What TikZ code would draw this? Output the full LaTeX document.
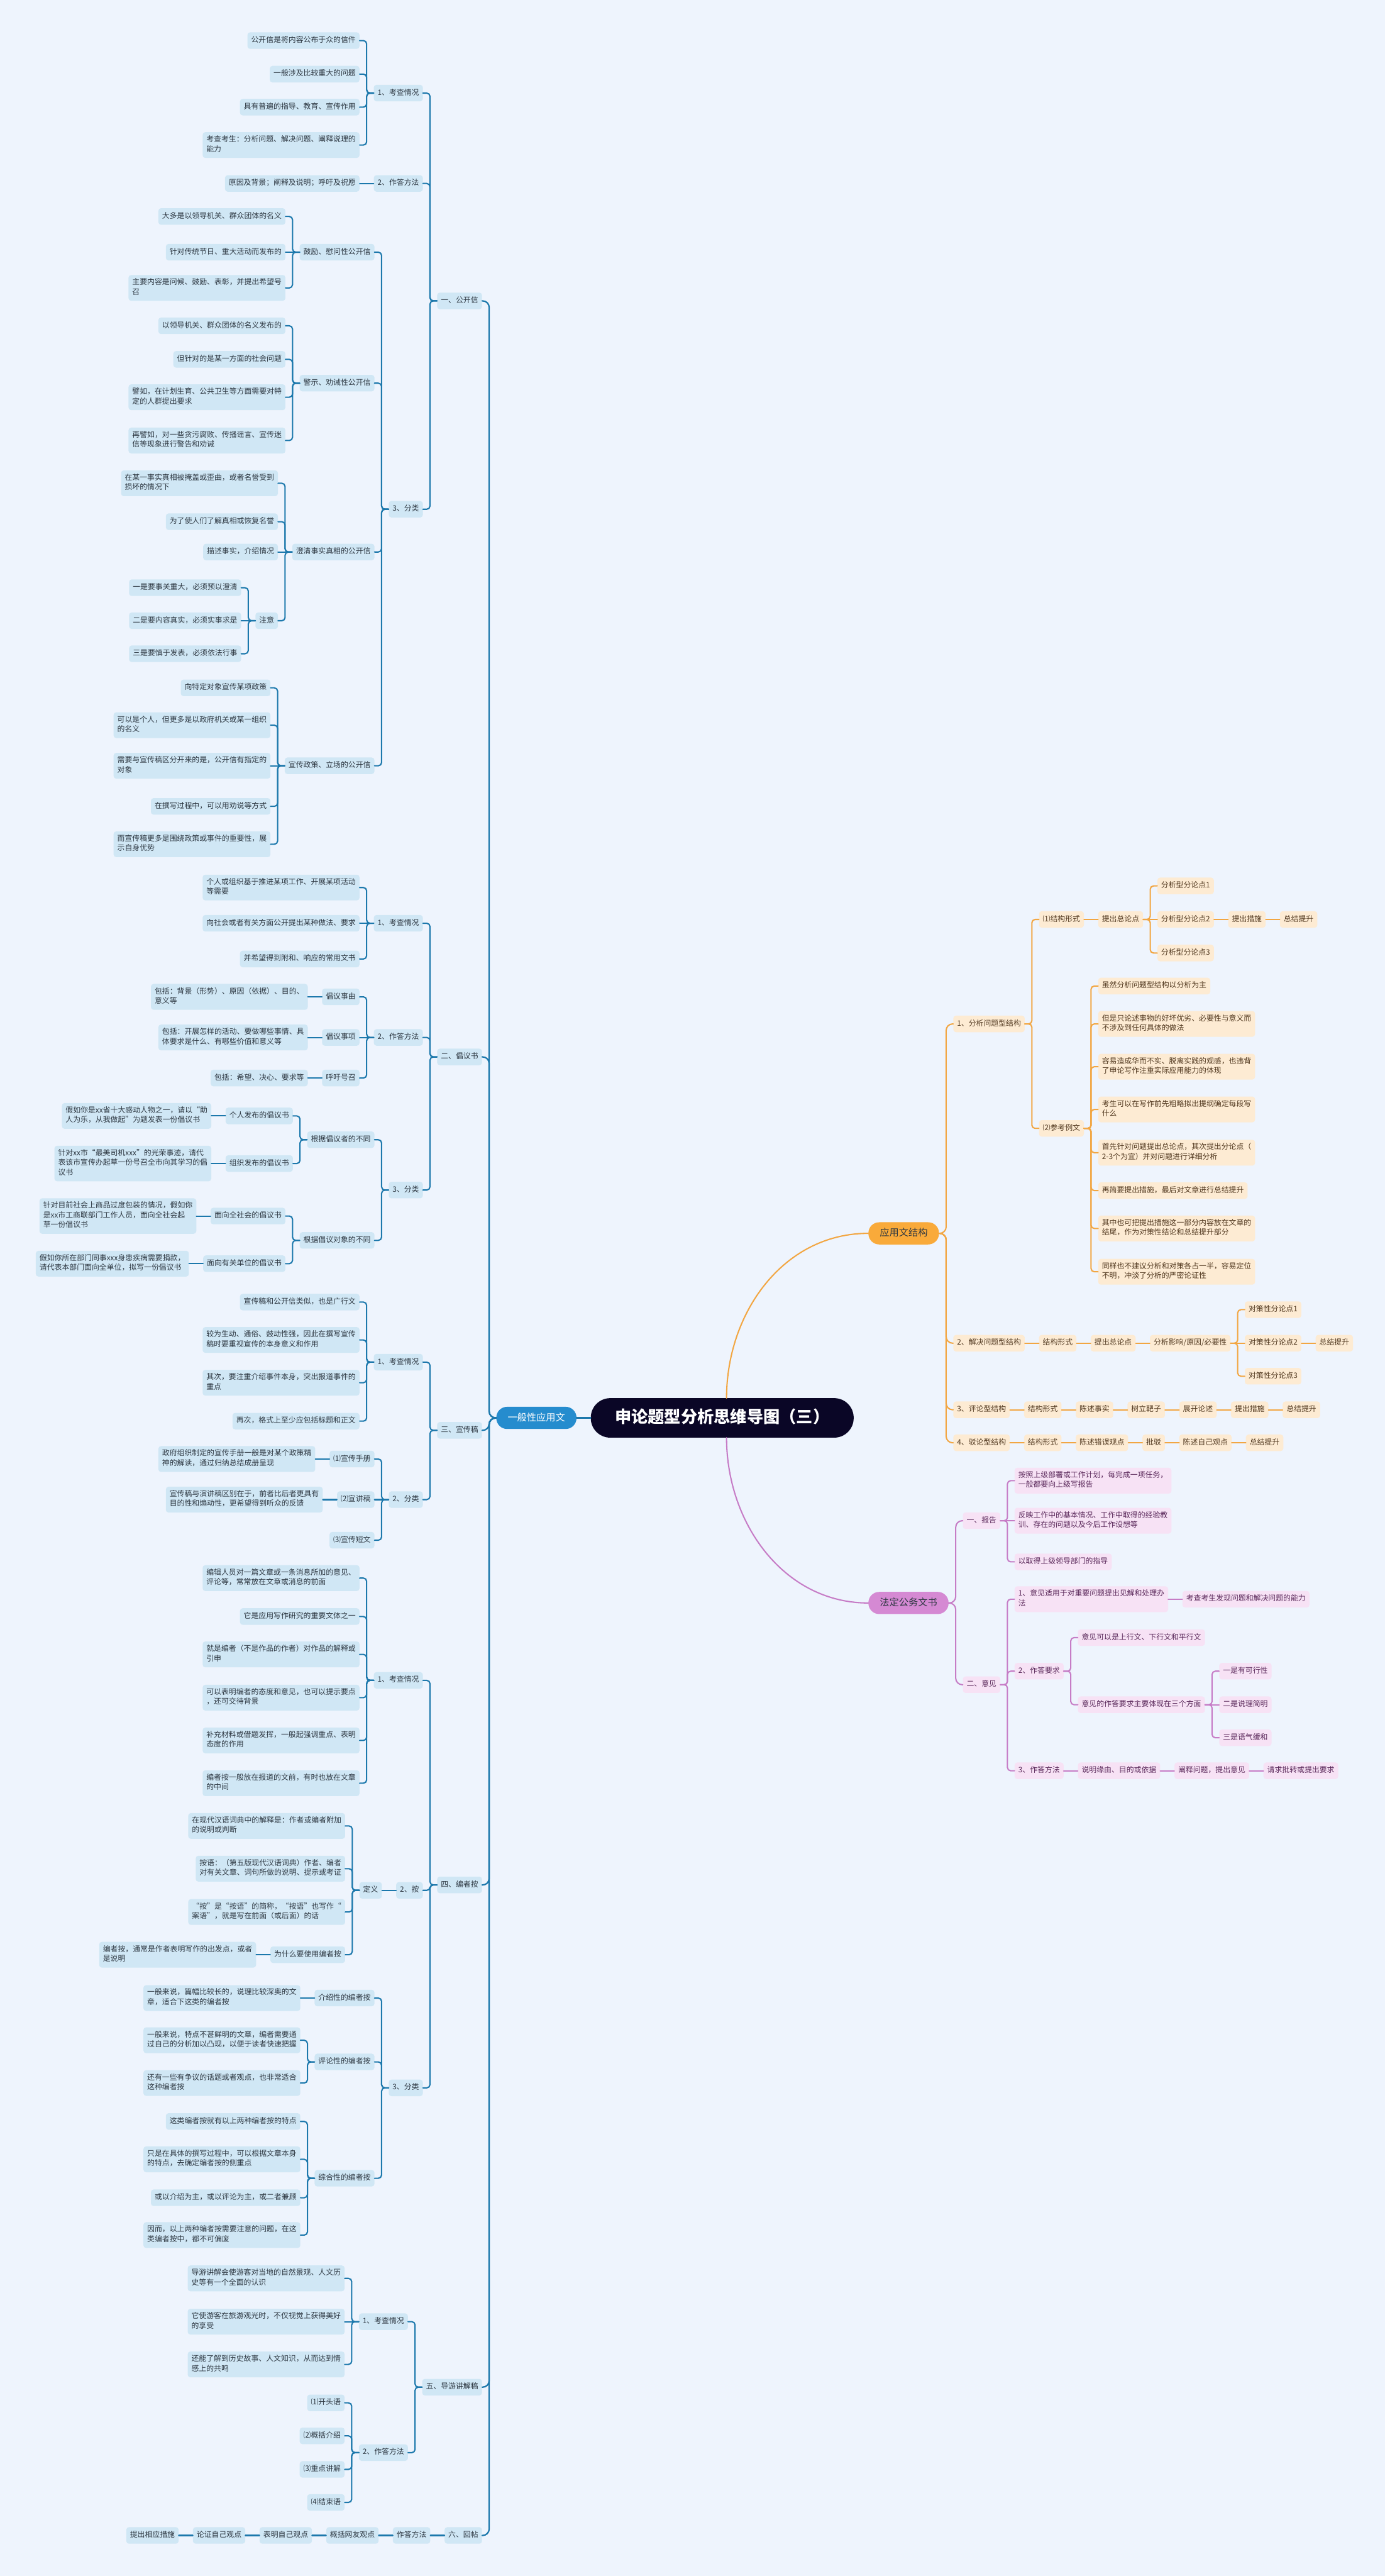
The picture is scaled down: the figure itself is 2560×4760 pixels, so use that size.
\documentclass[tikz,border=0pt]{standalone}
\usepackage{fontspec}
\setmainfont{Noto Sans CJK SC}
\definecolor{sfondo}{RGB}{238,244,253}
\definecolor{blu}{RGB}{28,120,172}
\definecolor{blufill}{RGB}{208,231,245}
\definecolor{blutesto}{RGB}{45,55,65}
\definecolor{radice}{RGB}{37,140,206}
\definecolor{notte}{RGB}{10,6,38}
\definecolor{aran}{RGB}{242,166,66}
\definecolor{aranfill}{RGB}{253,235,211}
\definecolor{arantesta}{RGB}{249,170,58}
\definecolor{arantesto}{RGB}{80,55,30}
\definecolor{viola}{RGB}{198,124,198}
\definecolor{violafill}{RGB}{247,226,245}
\definecolor{violatesta}{RGB}{213,137,211}
\definecolor{violatesto}{RGB}{90,40,90}
\newcommand\piccolo{\fontsize{13.8}{18}\selectfont}
\newcommand\medio{\fontsize{17.7}{21}\selectfont}
\newcommand\grande{\fontsize{30.5}{34}\selectfont\bfseries}

\begin{document}
\begin{tikzpicture}[x=1pt,y=-1pt,line join=round,line cap=round,
  box/.style={rounded corners=5pt,inner xsep=7pt,inner ysep=6.3pt,align=left,font=\piccolo,
    execute at begin node=\strut,execute at end node=\strut},
  sx/.style={box,fill=blufill,text=blutesto,anchor=east},
  dx/.style={box,fill=aranfill,text=arantesto,anchor=west},
  vx/.style={box,fill=violafill,text=violatesto,anchor=west},
  capo/.style={font=\medio,inner xsep=21pt,inner ysep=11.75pt,text height=14pt,text depth=3.5pt,rounded corners=20pt},
  filo/.style={draw=blu,line width=2.4pt,rounded corners=6pt},
  filoa/.style={draw=aran,line width=2.4pt,rounded corners=6pt},
  filov/.style={draw=viola,line width=2.4pt,rounded corners=6pt}]
  \useasboundingbox (0,0) rectangle (2560,4760);
  \fill[sfondo] (0,0) rectangle (2560,4760);

  % --- titolo e rami principali
  \node[capo,fill=notte,text=white,font=\grande,inner xsep=44.7pt,inner ysep=21.5pt,
        text height=24pt,text depth=6pt,rounded corners=36pt] (tit) at (1335,2620) {申论题型分析思维导图（三）};
  \node[capo,fill=radice,text=white] (gen) at (991.5,2620) {一般性应用文};
  \node[capo,fill=arantesta,text=blutesto,anchor=west] (yys) at (1605,2279) {应用文结构};
  \node[capo,fill=violatesta,text=blutesto,anchor=west] (fgw) at (1605,2962) {法定公务文书};
  \draw[filo,line width=2.6pt] (tit.west) -- (gen.east);
  \draw[filoa,rounded corners=0pt] ([xshift=8pt]tit.north) to[out=90,in=180] (yys.west);
  \draw[filov,rounded corners=0pt] ([xshift=8pt]tit.south) to[out=-90,in=180] (fgw.west);

  % --- sezioni dell'albero sinistro
  \node[sx] (gk) at ([xshift=-26pt]gen.west |- 0,556) {一、公开信};
  \node[sx] (cy) at ([xshift=-26pt]gen.west |- 0,1953) {二、倡议书};
  \node[sx] (xc) at ([xshift=-26pt]gen.west |- 0,2643) {三、宣传稿};
  \node[sx] (bz) at ([xshift=-26pt]gen.west |- 0,3483) {四、编者按};
  \node[sx] (dy) at ([xshift=-26pt]gen.west |- 0,4411) {五、导游讲解稿};
  \node[sx] (ht) at ([xshift=-26pt]gen.west |- 0,4685) {六、回帖};
  \foreach \k in {gk,cy,xc,bz,dy,ht}
    \draw[filo,line width=2.6pt,rounded corners=12pt] (gen.west) -- ++(-13,0) |- (\k.east);

  % --- 一、公开信
  \node[sx] (gk1) at ([xshift=-26pt]gk.west |- 0,172) {1、考查情况};
  \node[sx] (gk2) at ([xshift=-26pt]gk.west |- 0,339) {2、作答方法};
  \node[sx] (gk3) at ([xshift=-26pt]gk.west |- 0,941) {3、分类};
  \node[sx] (gk11) at ([xshift=-26pt]gk1.west |- 0,75) {公开信是将内容公布于众的信件};
  \node[sx] (gk12) at ([xshift=-26pt]gk1.west |- 0,137) {一般涉及比较重大的问题};
  \node[sx] (gk13) at ([xshift=-26pt]gk1.west |- 0,198) {具有普遍的指导、教育、宣传作用};
  \node[sx] (gk14) at ([xshift=-26pt]gk1.west |- 0,268) {考查考生：分析问题、解决问题、阐释说理的\\能力};
  \node[sx] (gk21) at ([xshift=-26pt]gk2.west |- 0,339) {原因及背景；阐释及说明；呼吁及祝愿};
  \node[sx] (gk31) at ([xshift=-26pt]gk3.west |- 0,466) {鼓励、慰问性公开信};
  \node[sx] (gk32) at ([xshift=-26pt]gk3.west |- 0,708) {警示、劝诫性公开信};
  \node[sx] (gk33) at ([xshift=-26pt]gk3.west |- 0,1020) {澄清事实真相的公开信};
  \node[sx] (gk34) at ([xshift=-26pt]gk3.west |- 0,1415) {宣传政策、立场的公开信};
  \node[sx] (gk311) at ([xshift=-26pt]gk31.west |- 0,400) {大多是以领导机关、群众团体的名义};
  \node[sx] (gk312) at ([xshift=-26pt]gk31.west |- 0,466) {针对传统节日、重大活动而发布的};
  \node[sx] (gk313) at ([xshift=-26pt]gk31.west |- 0,532) {主要内容是问候、鼓励、表彰，并提出希望号\\召};
  \node[sx] (gk321) at ([xshift=-26pt]gk32.west |- 0,602) {以领导机关、群众团体的名义发布的};
  \node[sx] (gk322) at ([xshift=-26pt]gk32.west |- 0,664) {但针对的是某一方面的社会问题};
  \node[sx] (gk323) at ([xshift=-26pt]gk32.west |- 0,734) {譬如，在计划生育、公共卫生等方面需要对特\\定的人群提出要求};
  \node[sx] (gk324) at ([xshift=-26pt]gk32.west |- 0,814) {再譬如，对一些贪污腐败、传播谣言、宣传迷\\信等现象进行警告和劝诫};
  \node[sx] (gk331) at ([xshift=-26pt]gk33.west |- 0,893) {在某一事实真相被掩盖或歪曲，或者名誉受到\\损坏的情况下};
  \node[sx] (gk332) at ([xshift=-26pt]gk33.west |- 0,964) {为了使人们了解真相或恢复名誉};
  \node[sx] (gk333) at ([xshift=-26pt]gk33.west |- 0,1020) {描述事实，介绍情况};
  \node[sx] (gk334) at ([xshift=-26pt]gk33.west |- 0,1147) {注意};
  \node[sx] (gk3341) at ([xshift=-26pt]gk334.west |- 0,1086) {一是要事关重大，必须预以澄清};
  \node[sx] (gk3342) at ([xshift=-26pt]gk334.west |- 0,1147) {二是要内容真实，必须实事求是};
  \node[sx] (gk3343) at ([xshift=-26pt]gk334.west |- 0,1208) {三是要慎于发表，必须依法行事};
  \node[sx] (gk341) at ([xshift=-26pt]gk34.west |- 0,1271) {向特定对象宣传某项政策};
  \node[sx] (gk342) at ([xshift=-26pt]gk34.west |- 0,1340) {可以是个人，但更多是以政府机关或某一组织\\的名义};
  \node[sx] (gk343) at ([xshift=-26pt]gk34.west |- 0,1415) {需要与宣传稿区分开来的是，公开信有指定的\\对象};
  \node[sx] (gk344) at ([xshift=-26pt]gk34.west |- 0,1490) {在撰写过程中，可以用劝说等方式};
  \node[sx] (gk345) at ([xshift=-26pt]gk34.west |- 0,1560) {而宣传稿更多是围绕政策或事件的重要性，展\\示自身优势};

  % --- 二、倡议书
  \node[sx] (cy1) at ([xshift=-26pt]cy.west |- 0,1706) {1、考查情况};
  \node[sx] (cy2) at ([xshift=-26pt]cy.west |- 0,1917) {2、作答方法};
  \node[sx] (cy3) at ([xshift=-26pt]cy.west |- 0,2199) {3、分类};
  \node[sx] (cy11) at ([xshift=-26pt]cy1.west |- 0,1640) {个人或组织基于推进某项工作、开展某项活动\\等需要};
  \node[sx] (cy12) at ([xshift=-26pt]cy1.west |- 0,1706) {向社会或者有关方面公开提出某种做法、要求};
  \node[sx] (cy13) at ([xshift=-26pt]cy1.west |- 0,1772) {并希望得到附和、响应的常用文书};
  \node[sx] (cy21) at ([xshift=-26pt]cy2.west |- 0,1842) {倡议事由};
  \node[sx] (cy22) at ([xshift=-26pt]cy2.west |- 0,1917) {倡议事项};
  \node[sx] (cy23) at ([xshift=-26pt]cy2.west |- 0,1992) {呼吁号召};
  \node[sx] (cy211) at ([xshift=-26pt]cy21.west) {包括：背景（形势）、原因（依据）、目的、\\意义等};
  \node[sx] (cy221) at ([xshift=-26pt]cy22.west) {包括：开展怎样的活动、要做哪些事情、具\\体要求是什么、有哪些价值和意义等};
  \node[sx] (cy231) at ([xshift=-26pt]cy23.west) {包括：希望、决心、要求等};
  \node[sx] (cy31) at ([xshift=-26pt]cy3.west |- 0,2106) {根据倡议者的不同};
  \node[sx] (cy32) at ([xshift=-26pt]cy3.west |- 0,2292) {根据倡议对象的不同};
  \node[sx] (cy311) at ([xshift=-26pt]cy31.west |- 0,2062) {个人发布的倡议书};
  \node[sx] (cy312) at ([xshift=-26pt]cy31.west |- 0,2150) {组织发布的倡议书};
  \node[sx] (cy321) at ([xshift=-26pt]cy32.west |- 0,2247) {面向全社会的倡议书};
  \node[sx] (cy322) at ([xshift=-26pt]cy32.west |- 0,2335) {面向有关单位的倡议书};
  \node[sx] (cy3111) at ([xshift=-26pt]cy311.west) {假如你是xx省十大感动人物之一，请以“助\\人为乐，从我做起”为题发表一份倡议书};
  \node[sx] (cy3121) at ([xshift=-26pt]cy312.west) {针对xx市“最美司机xxx”的光荣事迹，请代\\表该市宣传办起草一份号召全市向其学习的倡\\议书};
  \node[sx] (cy3211) at ([xshift=-26pt]cy321.west) {针对目前社会上商品过度包装的情况，假如你\\是xx市工商联部门工作人员，面向全社会起\\草一份倡议书};
  \node[sx] (cy3221) at ([xshift=-26pt]cy322.west) {假如你所在部门同事xxx身患疾病需要捐款，\\请代表本部门面向全单位，拟写一份倡议书};

  % --- 三、宣传稿
  \node[sx] (xc1) at ([xshift=-26pt]xc.west |- 0,2517) {1、考查情况};
  \node[sx] (xc2) at ([xshift=-26pt]xc.west |- 0,2771) {2、分类};
  \node[sx] (xc11) at ([xshift=-26pt]xc1.west |- 0,2406) {宣传稿和公开信类似，也是广行文};
  \node[sx] (xc12) at ([xshift=-26pt]xc1.west |- 0,2476) {较为生动、通俗、鼓动性强，因此在撰写宣传\\稿时要重视宣传的本身意义和作用};
  \node[sx] (xc13) at ([xshift=-26pt]xc1.west |- 0,2555) {其次，要注重介绍事件本身，突出报道事件的\\重点};
  \node[sx] (xc14) at ([xshift=-26pt]xc1.west |- 0,2626) {再次，格式上至少应包括标题和正文};
  \node[sx] (xc21) at ([xshift=-26pt]xc2.west |- 0,2696) {⑴宣传手册};
  \node[sx] (xc22) at ([xshift=-26pt]xc2.west |- 0,2771) {⑵宣讲稿};
  \node[sx] (xc23) at ([xshift=-26pt]xc2.west |- 0,2846) {⑶宣传短文};
  \node[sx] (xc211) at ([xshift=-26pt]xc21.west) {政府组织制定的宣传手册一般是对某个政策精\\神的解读，通过归纳总结成册呈现};
  \node[sx] (xc221) at ([xshift=-26pt]xc22.west) {宣传稿与演讲稿区别在于，前者比后者更具有\\目的性和煽动性，更希望得到听众的反馈};

  % --- 四、编者按
  \node[sx] (bz1) at ([xshift=-26pt]bz.west |- 0,3105) {1、考查情况};
  \node[sx] (bz2) at ([xshift=-26pt]bz.west |- 0,3493) {2、按};
  \node[sx] (bz3) at ([xshift=-26pt]bz.west |- 0,3858) {3、分类};
  \node[sx] (bz11) at ([xshift=-26pt]bz1.west |- 0,2916) {编辑人员对一篇文章或一条消息所加的意见、\\评论等，常常放在文章或消息的前面};
  \node[sx] (bz12) at ([xshift=-26pt]bz1.west |- 0,2987) {它是应用写作研究的重要文体之一};
  \node[sx] (bz13) at ([xshift=-26pt]bz1.west |- 0,3057) {就是编者（不是作品的作者）对作品的解释或\\引申};
  \node[sx] (bz14) at ([xshift=-26pt]bz1.west |- 0,3137) {可以表明编者的态度和意见，也可以提示要点\\，还可交待背景};
  \node[sx] (bz15) at ([xshift=-26pt]bz1.west |- 0,3216) {补充材料或借题发挥，一般起强调重点、表明\\态度的作用};
  \node[sx] (bz16) at ([xshift=-26pt]bz1.west |- 0,3295) {编者按一般放在报道的文前，有时也放在文章\\的中间};
  \node[sx] (bz21) at ([xshift=-26pt]bz2.west) {定义};
  \node[sx] (bz211) at ([xshift=-26pt]bz21.west |- 0,3374) {在现代汉语词典中的解释是：作者或编者附加\\的说明或判断};
  \node[sx] (bz212) at ([xshift=-26pt]bz21.west |- 0,3453) {按语：（第五版现代汉语词典）作者、编者\\对有关文章、词句所做的说明、提示或考证};
  \node[sx] (bz213) at ([xshift=-26pt]bz21.west |- 0,3533) {“按”是“按语”的简称，“按语”也写作“\\案语”，就是写在前面（或后面）的话};
  \node[sx] (bz214) at ([xshift=-26pt]bz21.west |- 0,3612) {为什么要使用编者按};
  \node[sx] (bz2141) at ([xshift=-26pt]bz214.west) {编者按，通常是作者表明写作的出发点，或者\\是说明};
  \node[sx] (bz31) at ([xshift=-26pt]bz3.west |- 0,3692) {介绍性的编者按};
  \node[sx] (bz32) at ([xshift=-26pt]bz3.west |- 0,3810) {评论性的编者按};
  \node[sx] (bz33) at ([xshift=-26pt]bz3.west |- 0,4025) {综合性的编者按};
  \node[sx] (bz311) at ([xshift=-26pt]bz31.west) {一般来说，篇幅比较长的，说理比较深奥的文\\章，适合下这类的编者按};
  \node[sx] (bz321) at ([xshift=-26pt]bz32.west |- 0,3770) {一般来说，特点不甚鲜明的文章，编者需要通\\过自己的分析加以凸现，以便于读者快速把握};
  \node[sx] (bz322) at ([xshift=-26pt]bz32.west |- 0,3849) {还有一些有争议的话题或者观点，也非常适合\\这种编者按};
  \node[sx] (bz331) at ([xshift=-26pt]bz33.west |- 0,3920) {这类编者按就有以上两种编者按的特点};
  \node[sx] (bz332) at ([xshift=-26pt]bz33.west |- 0,3990) {只是在具体的撰写过程中，可以根据文章本身\\的特点，去确定编者按的侧重点};
  \node[sx] (bz333) at ([xshift=-26pt]bz33.west |- 0,4061) {或以介绍为主，或以评论为主，或二者兼顾};
  \node[sx] (bz334) at ([xshift=-26pt]bz33.west |- 0,4130) {因而，以上两种编者按需要注意的问题，在这\\类编者按中，都不可偏废};

  % --- 五、导游讲解稿 e 六、回帖
  \node[sx] (dy1) at ([xshift=-26pt]dy.west |- 0,4290) {1、考查情况};
  \node[sx] (dy2) at ([xshift=-26pt]dy.west |- 0,4532) {2、作答方法};
  \node[sx] (dy11) at ([xshift=-26pt]dy1.west |- 0,4210) {导游讲解会使游客对当地的自然景观、人文历\\史等有一个全面的认识};
  \node[sx] (dy12) at ([xshift=-26pt]dy1.west |- 0,4290) {它使游客在旅游观光时，不仅视觉上获得美好\\的享受};
  \node[sx] (dy13) at ([xshift=-26pt]dy1.west |- 0,4369) {还能了解到历史故事、人文知识，从而达到情\\感上的共鸣};
  \node[sx] (dy21) at ([xshift=-26pt]dy2.west |- 0,4440) {⑴开头语};
  \node[sx] (dy22) at ([xshift=-26pt]dy2.west |- 0,4501) {⑵概括介绍};
  \node[sx] (dy23) at ([xshift=-26pt]dy2.west |- 0,4563) {⑶重点讲解};
  \node[sx] (dy24) at ([xshift=-26pt]dy2.west |- 0,4624) {⑷结束语};
  \node[sx] (ht1) at ([xshift=-26pt]ht.west) {作答方法};
  \node[sx] (ht2) at ([xshift=-26pt]ht1.west) {概括网友观点};
  \node[sx] (ht3) at ([xshift=-26pt]ht2.west) {表明自己观点};
  \node[sx] (ht4) at ([xshift=-26pt]ht3.west) {论证自己观点};
  \node[sx] (ht5) at ([xshift=-26pt]ht4.west) {提出相应措施};

  % --- collegamenti a gomito e diritti, albero sinistro
  \foreach \p/\c in {gk/gk1,gk/gk2,gk/gk3,gk1/gk11,gk1/gk12,gk1/gk13,gk1/gk14,
      gk3/gk31,gk3/gk32,gk3/gk33,gk3/gk34,gk31/gk311,gk31/gk313,
      gk32/gk321,gk32/gk322,gk32/gk323,gk32/gk324,gk33/gk331,gk33/gk332,gk33/gk334,
      gk334/gk3341,gk334/gk3343,gk34/gk341,gk34/gk342,gk34/gk344,gk34/gk345,
      cy/cy1,cy/cy2,cy/cy3,cy1/cy11,cy1/cy13,cy2/cy21,cy2/cy23,cy3/cy31,cy3/cy32,
      cy31/cy311,cy31/cy312,cy32/cy321,cy32/cy322,
      xc/xc1,xc/xc2,xc1/xc11,xc1/xc12,xc1/xc13,xc1/xc14,xc2/xc21,xc2/xc23,
      bz/bz1,bz/bz2,bz/bz3,bz1/bz11,bz1/bz12,bz1/bz13,bz1/bz14,bz1/bz15,bz1/bz16,
      bz21/bz211,bz21/bz212,bz21/bz213,bz21/bz214,bz3/bz31,bz3/bz32,bz3/bz33,
      bz32/bz321,bz32/bz322,bz33/bz331,bz33/bz332,bz33/bz333,bz33/bz334,
      dy/dy1,dy/dy2,dy1/dy11,dy1/dy13,dy2/dy21,dy2/dy22,dy2/dy23,dy2/dy24}
    \draw[filo] (\p.west) -- ++(-13,0) |- (\c.east);
  \foreach \p/\c in {gk2/gk21,gk31/gk312,gk33/gk333,gk334/gk3342,gk34/gk343,cy1/cy12,cy2/cy22,
      cy21/cy211,cy22/cy221,cy23/cy231,cy311/cy3111,cy312/cy3121,cy321/cy3211,cy322/cy3221,
      xc2/xc22,xc21/xc211,xc22/xc221,bz2/bz21,bz214/bz2141,bz31/bz311,dy1/dy12,
      ht/ht1,ht1/ht2,ht2/ht3,ht3/ht4,ht4/ht5}
    \draw[filo] (\p.west) -- (\c.east);

  % --- 应用文结构
  \node[dx] (jg1) at ([xshift=26pt]yys.east |- 0,1892) {1、分析问题型结构};
  \node[dx] (jg2) at ([xshift=26pt]yys.east |- 0,2482) {2、解决问题型结构};
  \node[dx] (jg3) at ([xshift=26pt]yys.east |- 0,2605) {3、评论型结构};
  \node[dx] (jg4) at ([xshift=26pt]yys.east |- 0,2666) {4、驳论型结构};
  \node[dx] (jg11) at ([xshift=26pt]jg1.east |- 0,1699) {⑴结构形式};
  \node[dx] (jg12) at ([xshift=26pt]jg1.east |- 0,2085) {⑵参考例文};
  \node[dx] (jg111) at ([xshift=26pt]jg11.east) {提出总论点};
  \node[dx] (jg1111) at ([xshift=26pt]jg111.east |- 0,1637) {分析型分论点1};
  \node[dx] (jg1112) at ([xshift=26pt]jg111.east |- 0,1699) {分析型分论点2};
  \node[dx] (jg1113) at ([xshift=26pt]jg111.east |- 0,1761) {分析型分论点3};
  \node[dx] (jg1114) at ([xshift=26pt]jg1112.east) {提出措施};
  \node[dx] (jg1115) at ([xshift=26pt]jg1114.east) {总结提升};
  \node[dx] (jg121) at ([xshift=26pt]jg12.east |- 0,1822) {虽然分析问题型结构以分析为主};
  \node[dx] (jg122) at ([xshift=26pt]jg12.east |- 0,1892) {但是只论述事物的好坏优劣、必要性与意义而\\不涉及到任何具体的做法};
  \node[dx] (jg123) at ([xshift=26pt]jg12.east |- 0,1971) {容易造成华而不实、脱离实践的观感，也违背\\了申论写作注重实际应用能力的体现};
  \node[dx] (jg124) at ([xshift=26pt]jg12.east |- 0,2050) {考生可以在写作前先粗略拟出提纲确定每段写\\什么};
  \node[dx] (jg125) at ([xshift=26pt]jg12.east |- 0,2130) {首先针对问题提出总论点，其次提出分论点（\\2-3个为宜）并对问题进行详细分析};
  \node[dx] (jg126) at ([xshift=26pt]jg12.east |- 0,2200) {再简要提出措施，最后对文章进行总结提升};
  \node[dx] (jg127) at ([xshift=26pt]jg12.east |- 0,2270) {其中也可把提出措施这一部分内容放在文章的\\结尾，作为对策性结论和总结提升部分};
  \node[dx] (jg128) at ([xshift=26pt]jg12.east |- 0,2350) {同样也不建议分析和对策各占一半，容易定位\\不明，冲淡了分析的严密论证性};
  \node[dx] (jg21) at ([xshift=26pt]jg2.east) {结构形式};
  \node[dx] (jg22) at ([xshift=26pt]jg21.east) {提出总论点};
  \node[dx] (jg23) at ([xshift=26pt]jg22.east) {分析影响/原因/必要性};
  \node[dx] (jg231) at ([xshift=26pt]jg23.east |- 0,2420) {对策性分论点1};
  \node[dx] (jg232) at ([xshift=26pt]jg23.east |- 0,2482) {对策性分论点2};
  \node[dx] (jg234) at ([xshift=26pt]jg23.east |- 0,2543) {对策性分论点3};
  \node[dx] (jg233) at ([xshift=26pt]jg232.east) {总结提升};
  \node[dx] (jg31) at ([xshift=26pt]jg3.east) {结构形式};
  \node[dx] (jg32) at ([xshift=26pt]jg31.east) {陈述事实};
  \node[dx] (jg33) at ([xshift=26pt]jg32.east) {树立靶子};
  \node[dx] (jg34) at ([xshift=26pt]jg33.east) {展开论述};
  \node[dx] (jg35) at ([xshift=26pt]jg34.east) {提出措施};
  \node[dx] (jg36) at ([xshift=26pt]jg35.east) {总结提升};
  \node[dx] (jg41) at ([xshift=26pt]jg4.east) {结构形式};
  \node[dx] (jg42) at ([xshift=26pt]jg41.east) {陈述错误观点};
  \node[dx] (jg43) at ([xshift=26pt]jg42.east) {批驳};
  \node[dx] (jg44) at ([xshift=26pt]jg43.east) {陈述自己观点};
  \node[dx] (jg45) at ([xshift=26pt]jg44.east) {总结提升};
  \foreach \c in {jg1,jg2,jg3,jg4}
    \draw[filoa,rounded corners=12pt] (yys.east) -- ++(13,0) |- (\c.west);
  \foreach \p/\c in {jg1/jg11,jg1/jg12,jg111/jg1111,jg111/jg1113,jg12/jg121,jg12/jg122,jg12/jg123,
      jg12/jg124,jg12/jg125,jg12/jg126,jg12/jg127,jg12/jg128,jg23/jg231,jg23/jg234}
    \draw[filoa] (\p.east) -- ++(13,0) |- (\c.west);
  \foreach \p/\c in {jg11/jg111,jg111/jg1112,jg1112/jg1114,jg1114/jg1115,jg2/jg21,jg21/jg22,
      jg22/jg23,jg23/jg232,jg232/jg233,jg3/jg31,jg31/jg32,jg32/jg33,jg33/jg34,jg34/jg35,
      jg35/jg36,jg4/jg41,jg41/jg42,jg42/jg43,jg43/jg44,jg44/jg45}
    \draw[filoa] (\p.east) -- (\c.west);

  % --- 法定公务文书
  \node[vx] (gw1) at ([xshift=26pt]fgw.east |- 0,2810) {一、报告};
  \node[vx] (gw2) at ([xshift=26pt]fgw.east |- 0,3113) {二、意见};
  \node[vx] (gw11) at ([xshift=26pt]gw1.east |- 0,2736) {按照上级部署或工作计划，每完成一项任务，\\一般都要向上级写报告};
  \node[vx] (gw12) at ([xshift=26pt]gw1.east |- 0,2810) {反映工作中的基本情况、工作中取得的经验教\\训、存在的问题以及今后工作设想等};
  \node[vx] (gw13) at ([xshift=26pt]gw1.east |- 0,2886) {以取得上级领导部门的指导};
  \node[vx] (gw21) at ([xshift=26pt]gw2.east |- 0,2955) {1、意见适用于对重要问题提出见解和处理办\\法};
  \node[vx] (gw22) at ([xshift=26pt]gw2.east |- 0,3088) {2、作答要求};
  \node[vx] (gw23) at ([xshift=26pt]gw2.east |- 0,3272) {3、作答方法};
  \node[vx] (gw211) at ([xshift=26pt]gw21.east) {考查考生发现问题和解决问题的能力};
  \node[vx] (gw221) at ([xshift=26pt]gw22.east |- 0,3026) {意见可以是上行文、下行文和平行文};
  \node[vx] (gw222) at ([xshift=26pt]gw22.east |- 0,3150) {意见的作答要求主要体现在三个方面};
  \node[vx] (gw2221) at ([xshift=26pt]gw222.east |- 0,3088) {一是有可行性};
  \node[vx] (gw2222) at ([xshift=26pt]gw222.east |- 0,3150) {二是说理简明};
  \node[vx] (gw2223) at ([xshift=26pt]gw222.east |- 0,3211) {三是语气缓和};
  \node[vx] (gw231) at ([xshift=26pt]gw23.east) {说明缘由、目的或依据};
  \node[vx] (gw232) at ([xshift=26pt]gw231.east) {阐释问题，提出意见};
  \node[vx] (gw233) at ([xshift=26pt]gw232.east) {请求批转或提出要求};
  \foreach \c in {gw1,gw2}
    \draw[filov,rounded corners=12pt] (fgw.east) -- ++(13,0) |- (\c.west);
  \foreach \p/\c in {gw1/gw11,gw1/gw13,gw2/gw21,gw2/gw22,gw2/gw23,gw22/gw221,gw22/gw222,
      gw222/gw2221,gw222/gw2223}
    \draw[filov] (\p.east) -- ++(13,0) |- (\c.west);
  \foreach \p/\c in {gw1/gw12,gw21/gw211,gw222/gw2222,gw23/gw231,gw231/gw232,gw232/gw233}
    \draw[filov] (\p.east) -- (\c.west);
\end{tikzpicture}
\end{document}
